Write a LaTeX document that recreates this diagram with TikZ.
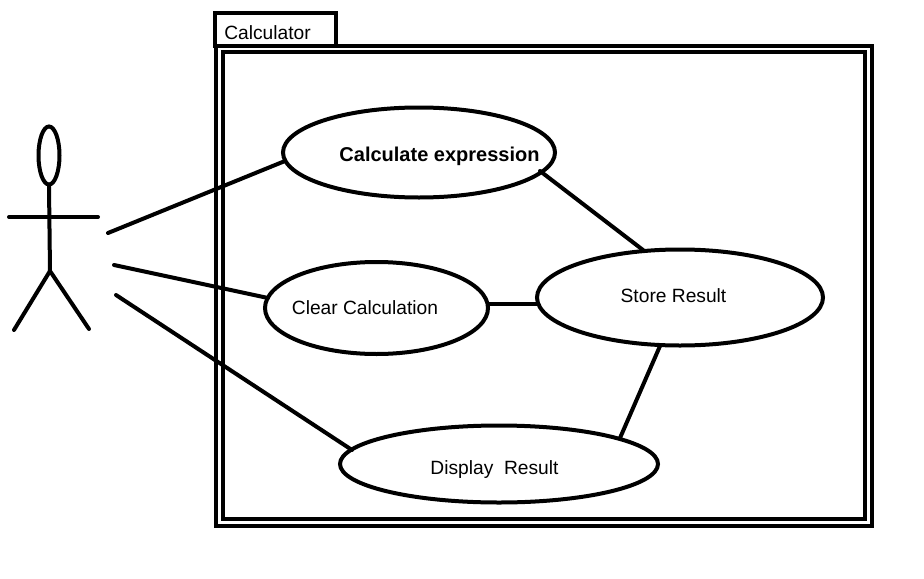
\documentclass[tikz,border=0pt]{standalone}
\usepackage{fontspec}
\setmainfont{Liberation Sans}
\usetikzlibrary{shapes.geometric}
\tikzset{
 ln/.style={line width=3pt,line cap=round,black},
 uc/.style={draw,ellipse,line width=3pt,inner sep=0pt},
 frame/.style={draw,line width=3pt,inner sep=0pt},
 lab/.style={font=\fontsize{14.4}{16}\selectfont,inner sep=0pt,anchor=center},
}
\begin{document}
\begin{tikzpicture}[x=0.75pt,y=-0.75pt]
\useasboundingbox (0,0) rectangle (924,578);
\fill[white] (0,0) rectangle (924,578);
% system boxes
\node[frame,minimum width=90.75pt,minimum height=24.75pt] (tab) at (275,29.5) {};
\node[lab,anchor=west] (tabt) at (224,32.5) {Calculator};
\node[frame,minimum width=492pt,minimum height=360pt] (outer) at (544,285.5) {};
\node[frame,minimum width=482pt,minimum height=350pt] (inner) at (544,285.5) {};
% ellipses
\node[uc,minimum width=204pt,minimum height=67.5pt] (calc) at (419,152.5) {};
\node[uc,minimum width=167.25pt,minimum height=69pt] (clear) at (376.5,308) {};
\node[uc,minimum width=214.5pt,minimum height=72pt] (store) at (680,297.5) {};
\node[uc,minimum width=238.5pt,minimum height=57.75pt] (disp) at (499,464) {};
\node[lab,font=\fontsize{15}{17}\selectfont] (calct) at (439.5,156.5) {\bfseries Calculate expression};
\node[lab] (cleart) at (365,307.5) {Clear Calculation};
\node[lab] (storet) at (673.5,295.5) {Store Result};
\node[lab] (dispt) at (494.5,470) {Display\ \ Result};
% actor
\node[draw,ellipse,line width=3pt,minimum width=15.75pt,minimum height=43.5pt,inner sep=0pt] (head) at (49,155.5) {};
\coordinate (hip) at (50,271);
\coordinate (armL) at (9,217);
\coordinate (armR) at (98,217);
\coordinate (legL) at (14,330);
\coordinate (legR) at (89,329);
\draw[ln] (head.south) -- (hip);
\draw[ln] (armL) -- (armR);
\draw[ln] (hip) -- (legL);
\draw[ln] (hip) -- (legR);
% connectors
\coordinate (a1) at (108,233);
\coordinate (a2) at (114,265);
\coordinate (a3) at (116,295);
\coordinate (c1) at (285,161);
\coordinate (c2) at (268,298);
\coordinate (c3) at (352,450);
\coordinate (c4) at (540,171);
\coordinate (s1) at (643,250);
\coordinate (c5) at (488,304);
\coordinate (s2) at (538,304);
\coordinate (s3) at (660,346);
\coordinate (c6) at (620,438);
\draw[ln] (a1) -- (c1);
\draw[ln] (a2) -- (c2);
\draw[ln] (a3) -- (c3);
\draw[ln] (c4) -- (s1);
\draw[ln] (c5) -- (s2);
\draw[ln] (s3) -- (c6);
\end{tikzpicture}
\end{document}
